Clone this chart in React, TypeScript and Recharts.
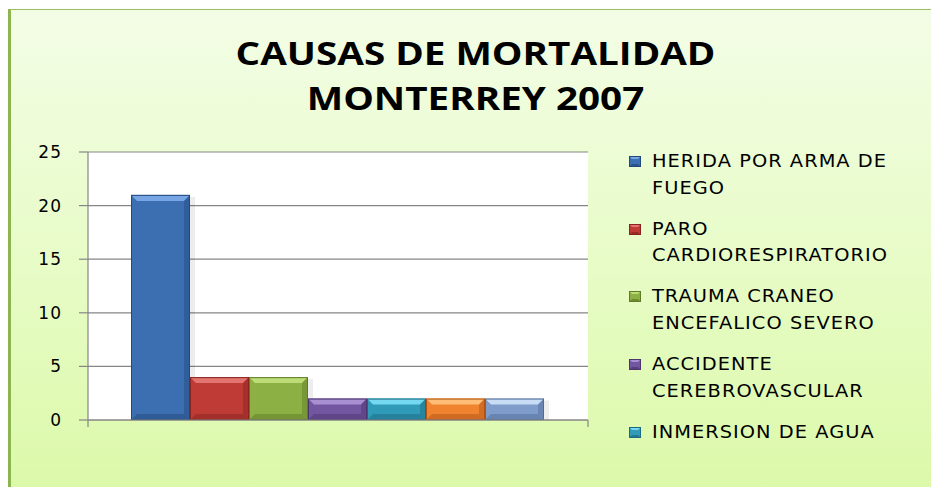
import React from 'react';
import { BarChart, Bar, XAxis, YAxis, CartesianGrid } from 'recharts';

const titleLines = ['CAUSAS DE MORTALIDAD', 'MONTERREY 2007'];
const categories = [''];
const seriesNames = [
  'HERIDA POR ARMA DE FUEGO',
  'PARO CARDIORESPIRATORIO',
  'TRAUMA CRANEO ENCEFALICO SEVERO',
  'ACCIDENTE CEREBROVASCULAR',
  'INMERSION DE AGUA',
  'SERIE 6',
  'SERIE 7',
];
const legendLines = [
  ['HERIDA POR ARMA DE', 'FUEGO'],
  ['PARO', 'CARDIORESPIRATORIO'],
  ['TRAUMA CRANEO', 'ENCEFALICO SEVERO'],
  ['ACCIDENTE', 'CEREBROVASCULAR'],
  ['INMERSION DE AGUA'],
];
const seriesValues = [21, 4, 4, 2, 2, 2, 2];
const seriesColors = ['#3b6fb2', '#bf3b36', '#8cb043', '#7256a0', '#2f9bb8', '#f08330', '#7f9ccb'];
const seriesLight = ['#78a6e4', '#e27570', '#bcdc78', '#a88fd2', '#74d8f0', '#ffbd78', '#c9dcf6'];
const seriesDark = ['#23497c', '#88231f', '#5f7b27', '#4c356f', '#1d6a80', '#ae5413', '#526b95'];
const yTicks = [0, 5, 10, 15, 20, 25];

const data = categories.map((c) => {
  const row: Record<string, string | number> = { category: c };
  seriesNames.forEach((_, i) => {
    row['s' + i] = seriesValues[i];
  });
  return row;
});

const makeShape = (i: number) => (props: any) => {
  const { x, y, width, height } = props;
  if (!height || height <= 0) return <g />;
  const b = Math.min(6, height / 3, width / 3);
  const base = seriesColors[i];
  const light = seriesLight[i];
  const dark = seriesDark[i];
  return (
    <g>
      <rect x={x + width} y={y + 2} width={5} height={height - 2} fill="#000" opacity={0.07} />
      <rect x={x} y={y} width={width} height={height} fill={base} />
      <polygon
        points={`${x},${y} ${x + width},${y} ${x + width - b},${y + b} ${x + b},${y + b}`}
        fill={light}
      />
      <polygon
        points={`${x + width},${y} ${x + width - b},${y + b} ${x + width - b},${y + height - b} ${x + width},${y + height}`}
        fill={dark}
        opacity={0.45}
      />
      <polygon
        points={`${x},${y + height} ${x + b},${y + height - b} ${x + width - b},${y + height - b} ${x + width},${y + height}`}
        fill={dark}
        opacity={0.5}
      />
      <rect x={x + 0.5} y={y + 0.5} width={width - 1} height={height - 1} fill="none" stroke={dark} strokeWidth={1} />
    </g>
  );
};

const XTick = (props: any) => {
  const { x, y, payload } = props;
  const off = payload && payload.offset ? payload.offset : 250;
  return (
    <g>
      <line x1={x - off} y1={y} x2={x - off} y2={y + 7} stroke="#868686" strokeWidth={1.2} />
      <line x1={x + off} y1={y} x2={x + off} y2={y + 7} stroke="#868686" strokeWidth={1.2} />
    </g>
  );
};

const LegendIcon = ({ i }: { i: number }) => (
  <svg width={12} height={11} style={{ position: 'absolute', left: 0, top: 8 }}>
    <rect x={0} y={0} width={12} height={11} fill={seriesColors[i]} />
    <polygon points="0,0 12,0 9,3 3,3" fill={seriesLight[i]} />
    <polygon points="0,11 3,8 9,8 12,11" fill={seriesDark[i]} opacity={0.7} />
    <rect x={0.5} y={0.5} width={11} height={10} fill="none" stroke={seriesDark[i]} strokeWidth={1} />
  </svg>
);

export default function App() {
  return (
    <div style={{ position: 'absolute', left: 0, top: 0, width: 931, height: 487, overflow: 'hidden', background: '#fff' }}>
      <div
        style={{
          position: 'absolute',
          left: 8,
          top: 9,
          width: 940,
          height: 490,
          boxSizing: 'border-box',
          borderLeft: '3px solid #8cb44f',
          borderTop: '1px solid #9cc064',
          background: 'linear-gradient(to bottom, #f3fde6 0%, #e9fccb 45%, #dbf9a8 100%)',
        }}
      />
      <div
        style={{
          position: 'absolute',
          left: 0,
          top: 30,
          width: 951,
          textAlign: 'center',
          fontFamily: '"Open Sans", sans-serif',
          fontWeight: 700,
          fontSize: 33,
          lineHeight: '45px',
          color: '#000',
          transform: 'scaleX(1.17)',
          transformOrigin: '475.5px 0',
          whiteSpace: 'nowrap',
        }}
      >
        {titleLines.map((t, i) => (
          <div key={i}>{t}</div>
        ))}
      </div>
      <div style={{ position: 'absolute', left: 0, top: 0 }}>
        <BarChart
          width={931}
          height={487}
          data={data}
          margin={{ top: 152, right: 343, bottom: 57, left: 0 }}
          barCategoryGap={43}
          barGap={0}
        >
          <CartesianGrid horizontal vertical={false} stroke="#868686" strokeWidth={1.2} fill="#ffffff" fillOpacity={1} />
          <XAxis
            dataKey="category"
            height={10}
            axisLine={{ stroke: '#868686', strokeWidth: 1.2 }}
            tickLine={false}
            tickSize={0}
            tickMargin={0}
            tick={<XTick />}
            interval={0}
          />
          <YAxis
            width={88}
            domain={[0, 25]}
            ticks={yTicks}
            interval={0}
            axisLine={{ stroke: '#868686', strokeWidth: 1.2 }}
            tickLine={{ stroke: '#868686', strokeWidth: 1.2 }}
            tickSize={9}
            tickMargin={17}
            tick={{ fill: '#000', fontSize: 17, fontFamily: '"DejaVu Sans", sans-serif', letterSpacing: 1 }}
          />
          {seriesNames.map((name, i) => (
            <Bar
              key={i}
              dataKey={'s' + i}
              name={name}
              fill={seriesColors[i]}
              shape={makeShape(i)}
              isAnimationActive={false}
            />
          ))}
        </BarChart>
      </div>
      <div
        style={{
          position: 'absolute',
          left: 629,
          top: 148,
          fontFamily: '"DejaVu Sans", sans-serif',
          fontSize: 17,
          color: '#000',
          whiteSpace: 'nowrap',
        }}
      >
        {legendLines.map((lines, i) => (
          <div key={i} style={{ position: 'relative', height: 67.7 }}>
            <LegendIcon i={i} />
            <div
              style={{
                position: 'absolute',
                left: 23,
                top: 0,
                lineHeight: '26.5px',
                letterSpacing: '0.9px',
                transform: 'scaleX(1.14)',
                transformOrigin: '0 0',
              }}
            >
              {lines.map((l, j) => (
                <div key={j}>{l}</div>
              ))}
            </div>
          </div>
        ))}
      </div>
    </div>
  );
}
